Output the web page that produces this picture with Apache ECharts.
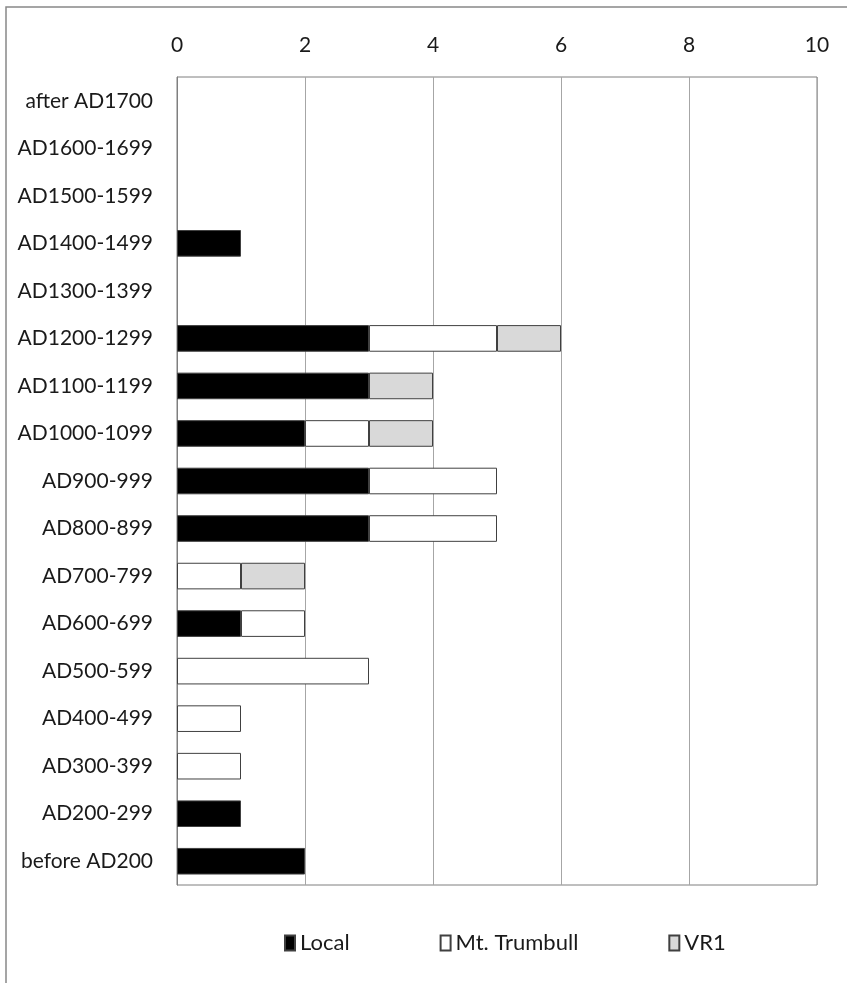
<!DOCTYPE html>
<html><head><meta charset="utf-8">
<script src="https://cdn.jsdelivr.net/npm/echarts@6/dist/echarts.min.js"></script>
<style>html,body{margin:0;padding:0;background:#fff;}#c{width:847px;height:983px;}</style>
</head><body><div id="c"></div>
<script>
const categories = ["after AD1700","AD1600-1699","AD1500-1599","AD1400-1499","AD1300-1399","AD1200-1299","AD1100-1199","AD1000-1099","AD900-999","AD800-899","AD700-799","AD600-699","AD500-599","AD400-499","AD300-399","AD200-299","before AD200"];
const localVals = [0,0,0,1,0,3,3,2,3,3,0,1,0,0,0,1,2];
const trumbullVals = [0,0,0,0,0,2,0,1,2,2,1,1,3,1,1,0,0];
const vr1Vals = [0,0,0,0,0,1,1,1,0,0,1,0,0,0,0,0,0];
const xTicks = {min:0, max:10, interval:2};

const font = 'Lato, "Liberation Sans", sans-serif';
const chart = echarts.init(document.getElementById('c'));
const barStyle = c => ({color:c, borderColor:'#404040', borderWidth:1});
function mk(name, data, c){
  return {name, type:'bar', stack:'s', data: data.map(v => v === 0 ? null : v), barCategoryGap:'44%', itemStyle:barStyle(c)};
}
chart.setOption({
  animation:false,
  textStyle:{fontFamily:font},
  graphic:[{type:'rect', shape:{x:6, y:7, width:900, height:1000}, style:{fill:null, stroke:'#888', lineWidth:1.5}, silent:true}],
  grid:{left:177, right:30, top:77, bottom:98, show:true, borderColor:'#7f7f7f', borderWidth:1},
  xAxis:{type:'value', position:'top', min:xTicks.min, max:xTicks.max, interval:xTicks.interval,
    axisLine:{show:false}, axisTick:{show:false},
    axisLabel:{fontSize:21, color:'#1a1a1a', margin:21, fontFamily:font},
    splitLine:{lineStyle:{color:'#a6a6a6', width:1}}},
  yAxis:{type:'category', data:categories, inverse:true,
    axisLine:{show:true, lineStyle:{color:'#7f7f7f'}}, axisTick:{show:false},
    axisLabel:{fontSize:21, color:'#1a1a1a', margin:24, fontFamily:font}},
  legend:{bottom:24, left:279, icon:'rect', itemWidth:10, itemHeight:15, itemGap:90,
    textStyle:{fontSize:22, color:'#1a1a1a', fontFamily:font},
    data:['Local','Mt. Trumbull','VR1']},
  series:[mk('Local', localVals, '#000000'), mk('Mt. Trumbull', trumbullVals, '#ffffff'), mk('VR1', vr1Vals, '#d9d9d9')]
});
</script></body></html>
